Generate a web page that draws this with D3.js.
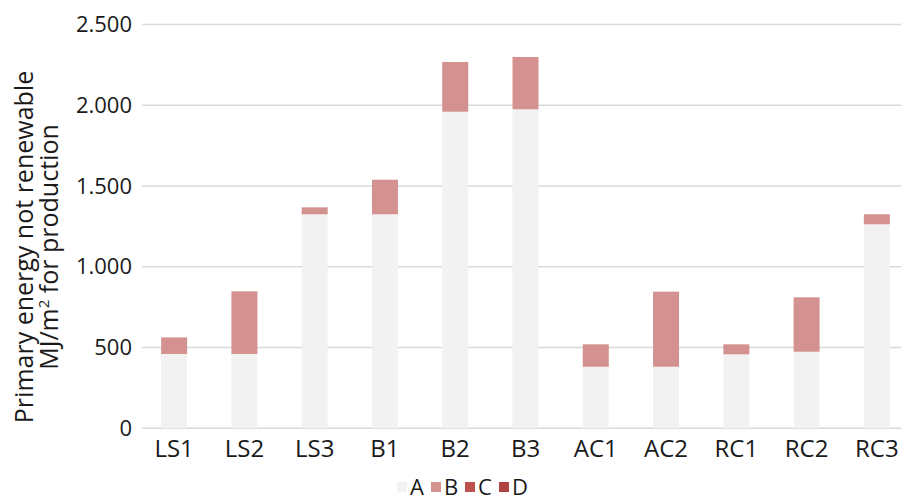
<!DOCTYPE html>
<html>
<head>
<meta charset="utf-8">
<script src="https://cdn.jsdelivr.net/npm/d3@7"></script>
<style>
  body { margin: 0; background: #fff; }
  svg text { font-family: "Open Sans", "Noto Sans", sans-serif; fill: #1a1a1a; }
</style>
</head>
<body>
<div id="chart"></div>
<script>
var width  = 901,
    height = 500;

// values
var categories = ['LS1', 'LS2', 'LS3', 'B1', 'B2', 'B3', 'AC1', 'AC2', 'RC1', 'RC2', 'RC3'];
var seriesA = [460, 460, 1325, 1325, 1960, 1975, 381, 381, 458, 474, 1263];
var seriesB = [103, 388, 43, 214, 308, 324, 139, 465, 62, 337, 62];
var seriesC = [0, 0, 0, 0, 0, 0, 0, 0, 0, 0, 0];
var seriesD = [0, 0, 0, 0, 0, 0, 0, 0, 0, 0, 0];
var seriesNames = ['A', 'B', 'C', 'D'];
var yTicks = [0, 500, 1000, 1500, 2000, 2500];

var colors = { A: '#f2f2f2', B: '#d39290', C: '#c0504d', D: '#b04341' };

var rows = categories.map(function(c, i) {
    return { cat: c, A: seriesA[i], B: seriesB[i], C: seriesC[i], D: seriesD[i] };
});
var stacked = d3.stack().keys(seriesNames)(rows);

var svg = d3.select('#chart').append('svg')
    .attr('width', width)
    .attr('height', height);

var x = d3.scaleBand()
    .domain(categories)
    .range([139, 912])
    .paddingInner(0.63)
    .paddingOuter(0.315);

var y = d3.scaleLinear()
    .domain([0, 2500])
    .range([428.3, 24.5]);

// gridlines
svg.append('g')
    .selectAll('line')
    .data(yTicks)
    .enter()
    .append('line')
    .attr('x1', 142)
    .attr('x2', width)
    .attr('y1', function(d) { return y(d); })
    .attr('y2', function(d) { return y(d); })
    .style('stroke', '#d9d9d9')
    .style('stroke-width', 1.5);

// bars
svg.append('g')
    .selectAll('g')
    .data(stacked)
    .enter()
    .append('g')
    .style('fill', function(d) { return colors[d.key]; })
    .selectAll('rect')
    .data(function(d) { return d; })
    .enter()
    .append('rect')
    .attr('x', function(d) { return x(d.data.cat); })
    .attr('width', x.bandwidth())
    .attr('y', function(d) { return y(d[1]); })
    .attr('height', function(d) { return y(d[0]) - y(d[1]); });

// y axis
var yAxis = svg.append('g')
    .attr('transform', 'translate(142,0)')
    .call(d3.axisLeft(y).tickValues(yTicks).tickSize(0).tickPadding(10)
        .tickFormat(function(d) { return d3.format(',')(d).replace(',', '.'); }));
yAxis.select('.domain').remove();
yAxis.selectAll('text').style('font-size', '22px');

// x axis
var xAxis = svg.append('g')
    .attr('transform', 'translate(0,428.3)')
    .call(d3.axisBottom(x).tickSize(0).tickPadding(12));
xAxis.select('.domain').remove();
xAxis.selectAll('text').style('font-size', '24px');

// y title
var title = svg.append('text')
    .attr('transform', 'translate(0,' + 247 + ') rotate(-90)')
    .attr('text-anchor', 'middle')
    .style('font-size', '25px');
title.append('tspan').attr('x', 0).attr('y', 33).text('Primary energy not renewable');
var t2 = title.append('tspan').attr('x', 0).attr('y', 58);
t2.append('tspan').text('MJ/m');
t2.append('tspan').attr('dy', -9).style('font-size', '15px').text('2');
t2.append('tspan').attr('dy', 9).text(' for production');

// legend
var legend = svg.append('g')
    .selectAll('g')
    .data(seriesNames)
    .enter()
    .append('g')
    .attr('transform', function(d, i) { return 'translate(' + (397 + i * 34) + ',482)'; });
legend.append('rect')
    .attr('width', 10)
    .attr('height', 10)
    .style('fill', function(d) { return colors[d]; });
legend.append('text')
    .attr('x', 13)
    .attr('y', 13)
    .style('font-size', '22px')
    .text(function(d) { return d; });
</script>
</body>
</html>
